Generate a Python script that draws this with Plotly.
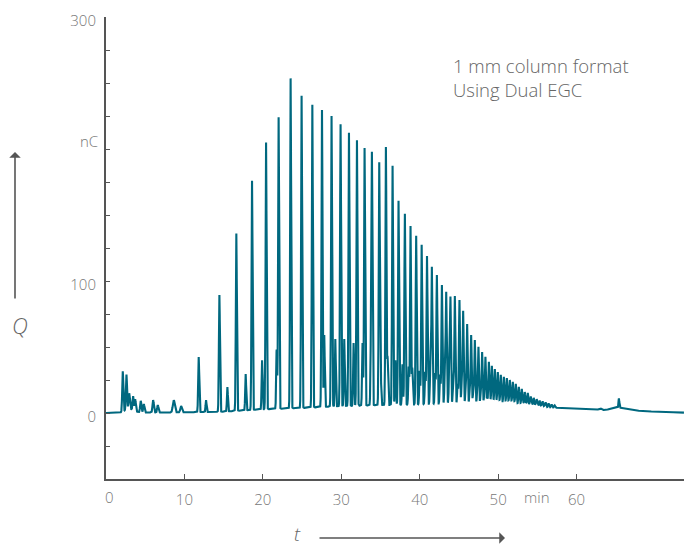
import numpy as np
import plotly.graph_objects as go

# ---------------- data ----------------
# main oligomer series: retention time (min) and apex charge (nC)
main_t = [11.82, 14.46, 16.62, 18.62, 20.41, 22.01, 23.54, 24.94, 26.31, 27.54,
          28.76, 29.91, 30.98, 32.0, 32.97, 33.91, 34.84, 35.69, 36.54, 37.3,
          38.11, 38.83, 39.55, 40.25, 40.93, 41.55, 42.19, 42.83, 43.38, 43.92,
          44.48, 45.07, 45.54, 46.05, 46.56, 47.03, 47.49, 47.96, 48.38, 48.82,
          49.2, 49.58, 49.96, 50.34, 50.73, 51.11, 51.49, 51.87, 52.25, 52.64,
          53.02, 53.4, 53.78, 54.16, 54.54, 54.92, 55.3, 55.68, 56.06, 56.44,
          56.82, 57.2]
main_q = [42.4, 89.4, 136, 176, 205, 224, 253.5, 240.4, 233.6, 229.5,
          225, 218.7, 212.3, 206.6, 200.8, 193.7, 188.9, 201.5, 187.3, 160.8,
          151, 141.7, 134.3, 127.5, 119, 110.6, 104.5, 97, 91.7, 88,
          88.6, 85.6, 77.3, 67.4, 59, 55.3, 50, 46.2, 42.4, 38.6,
          35.6, 33.3, 31, 28.8, 27.3, 26.5, 25, 23.5, 22, 19.7,
          18.2, 15.9, 15.2, 12.5, 11.5, 10.5, 9.5, 8.8, 8, 7.2,
          6.5, 5.8]

# minor series of smaller peaks between the main ones
minor_t = [12.76, 15.48, 17.81, 19.9, 21.76, 27.83, 29.24, 30.38, 31.57, 32.71,
           33.78, 35.0, 35.9, 36.9, 37.8, 38.6, 39.05, 40.0, 40.7, 41.35,
           41.97, 42.6, 43.2, 43.75, 44.27, 44.84, 45.35, 45.86, 46.37, 46.82,
           47.33, 47.77, 48.22, 48.6, 48.98, 49.36, 49.75, 50.13, 50.5, 50.9,
           51.3, 51.68, 52.06, 52.4, 52.8, 53.2, 53.6, 54.0, 54.35, 54.75,
           55.1, 55.5, 55.9]
minor_q = [9.8, 19.7, 29.5, 40, 48, 59, 56, 56, 53, 53,
           47.7, 45, 42, 40, 37, 35, 34, 32, 31, 31,
           30, 29, 27, 25, 24, 22, 20, 18, 16, 15,
           14, 13, 12, 11.5, 11, 10.5, 10, 10, 9.5, 9.5,
           9, 9, 8.5, 8.5, 8, 8, 7.5, 7, 6.8, 6.5,
           6.2, 5.8, 5.4]

# early small peaks and late peaks (time, apex, width in min)
small_t = [2.14, 2.61, 2.96, 3.0, 3.46, 3.72, 4.43, 4.82, 6.01, 6.6, 8.64, 9.58, 63.0, 65.3, 65.4]
small_q = [30.5, 26.7, 12.1, 3.0, 10.6, 9.1, 9.1, 6.8, 9.8, 6.1, 9.8, 5.3, 3.6, 4.2, 9.5]
small_w = [0.07, 0.07, 0.08, 0.6, 0.07, 0.07, 0.08, 0.08, 0.08, 0.08, 0.12, 0.1, 0.15, 0.7, 0.05]

# baseline drift
base_t = [0, 1.9, 5, 10, 15, 20, 25, 30, 35, 40, 45, 50, 53, 56, 58, 61, 63.5, 64.8, 66.5, 69, 73.7]
base_q = [0, 0, 0.3, 0.5, 1.0, 2.8, 3.8, 5.2, 6.0, 6.5, 7.2, 6.2, 5.5, 4.5, 3.8, 3.0, 2.2, 2.8, 2.4, 1.2, 0.3]

# ---------------- build trace ----------------
t = np.arange(0, 73.7, 0.005)
base = np.interp(t, base_t, base_q)
y = base.copy()

def add_peaks(tp_list, q_list, w_list):
    global y
    for tp, q, w in zip(tp_list, q_list, w_list):
        amp = q - np.interp(tp, base_t, base_q)
        y = y + amp * np.exp(-((t - tp) ** 2) / (2 * w ** 2))

add_peaks(main_t, main_q, [0.065] * len(main_t))
add_peaks(minor_t, minor_q, [0.06] * len(minor_t))
add_peaks(small_t, small_q, small_w)

line_color = "#00687f"
axis_color = "#555555"
label_color = "#777777"
FONT = "Open Sans"
TICK = dict(family=FONT, size=15, color=label_color, weight=300)
TXT = dict(family=FONT, size=18.5, color="#666666", weight=300)

fig = go.Figure()
fig.add_trace(go.Scatter(x=t, y=y, mode="lines",
                         line=dict(color=line_color, width=2.1),
                         hoverinfo="skip", showlegend=False))

y_ticks = list(range(-50, 301, 25))
y_text = [str(v) if v in (0, 100, 300) else "" for v in y_ticks]
x_ticks = [10, 20, 30, 40, 50, 60]

fig.update_layout(
    width=684, height=546,
    margin=dict(l=106, r=0, t=17, b=67),
    paper_bgcolor="white", plot_bgcolor="white",
    font=dict(family=FONT, color=label_color, size=15, weight=300),
    xaxis=dict(range=[0, 73.7], showgrid=False, zeroline=False,
               showline=True, linecolor=axis_color, linewidth=2,
               tickmode="array", tickvals=x_ticks,
               ticktext=[str(v) for v in x_ticks],
               ticks="inside", ticklen=5, tickwidth=1, tickcolor=axis_color,
               ticklabelstandoff=6, tickfont=TICK),
    yaxis=dict(range=[-50, 300], showgrid=False, zeroline=False,
               showline=True, linecolor=axis_color, linewidth=2,
               tickmode="array", tickvals=y_ticks, ticktext=y_text,
               ticks="inside", ticklen=4, tickwidth=1, tickcolor=axis_color,
               ticklabelshift=4, ticklabelstandoff=5, tickfont=TICK),
)

annots = [
    dict(x=0, y=0, xref="x", yref="paper", text="0", showarrow=False,
         yanchor="top", yshift=-6, xshift=3, font=TICK),
    dict(x=55, y=0, xref="x", yref="paper", text="min", showarrow=False,
         yanchor="top", yshift=-6, font=TICK),
    dict(x=0, y=206, xref="paper", yref="y", text="nC", showarrow=False,
         xanchor="right", yanchor="middle", xshift=-6, font=TICK),
    dict(x=(451 - 106) / 578, y=(479 - 65) / 462, xref="paper", yref="paper",
         text="1 mm column format", showarrow=False, xanchor="left",
         yanchor="middle", font=TXT),
    dict(x=(451 - 106) / 578, y=(479 - 89) / 462, xref="paper", yref="paper",
         text="Using Dual EGC", showarrow=False, xanchor="left",
         yanchor="middle", font=TXT),
    dict(x=(20 - 106) / 578, y=(479 - 325) / 462, xref="paper", yref="paper",
         text="<i>Q</i>", showarrow=False, xanchor="center", yanchor="middle",
         font=dict(family=FONT, size=22, color="#666666", weight=300)),
    dict(x=(297 - 106) / 578, y=(479 - 534) / 462, xref="paper", yref="paper",
         text="<i>t</i>", showarrow=False, xanchor="center", yanchor="middle",
         borderpad=0,
         font=dict(family=FONT, size=19, color="#666666", weight=300)),
    dict(x=(15 - 106) / 578, y=(479 - 152) / 462, xref="paper", yref="paper",
         ax=0, ay=148, text="", showarrow=True, arrowhead=1, arrowsize=1.2,
         arrowwidth=1.6, arrowcolor=axis_color),
    dict(x=(505 - 106) / 578, y=(479 - 538) / 462, xref="paper", yref="paper",
         ax=-187, ay=0, text="", showarrow=True, arrowhead=1, arrowsize=1.2,
         arrowwidth=1.6, arrowcolor=axis_color),
]
fig.update_layout(annotations=annots)

fig.write_html("out.html", config={"displayModeBar": False},
               post_script="document.body.style.margin='0px';document.body.style.overflow='hidden';")
